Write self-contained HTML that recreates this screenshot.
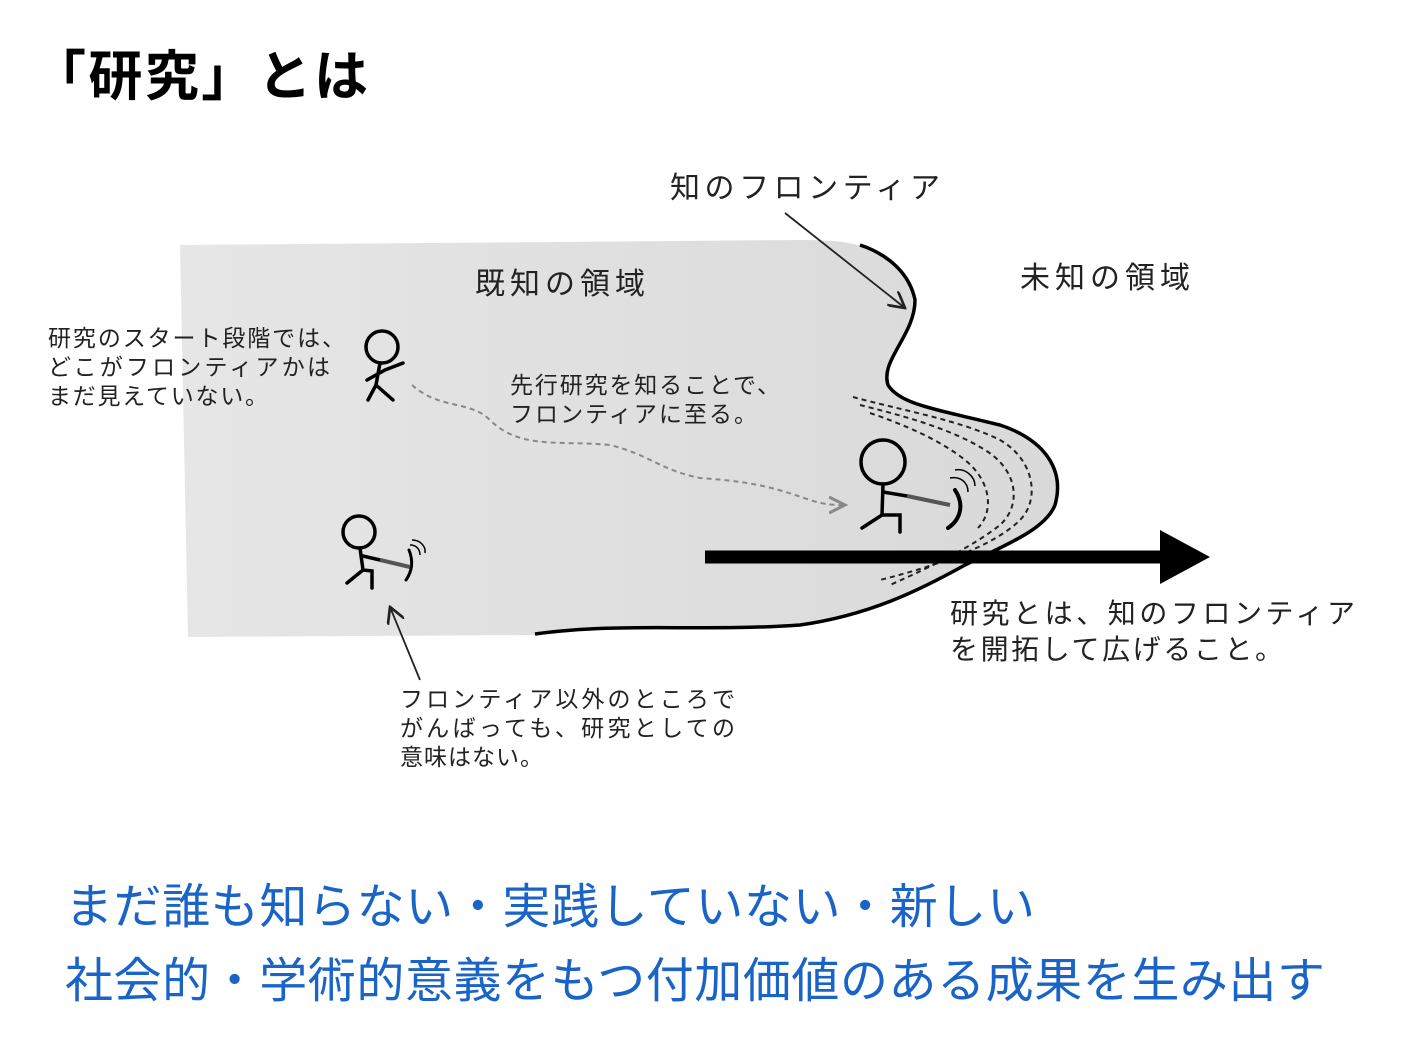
<!DOCTYPE html>
<html><head><meta charset="utf-8"><style>
body{margin:0;background:#fff;width:1411px;height:1057px;overflow:hidden;font-family:"Liberation Sans","Noto Sans CJK JP",sans-serif}
svg{position:absolute;left:0;top:0}
</style></head><body>
<svg width="1411" height="1057" viewBox="0 0 1411 1057" font-family="'Liberation Sans','Noto Sans CJK JP',sans-serif">
<defs>
<linearGradient id="g" x1="0" x2="1"><stop offset="0" stop-color="#e6e6e6"/><stop offset="1" stop-color="#d9d9d9"/></linearGradient>
<marker id="ah" markerWidth="10" markerHeight="10" refX="9" refY="5" orient="auto"><path d="M0,0 L9,5 L0,10" fill="none" stroke="#222" stroke-width="1.5"/></marker>
<marker id="ag" markerWidth="10" markerHeight="10" refX="8" refY="5" orient="auto"><path d="M0,1 L8,5 L0,9" fill="none" stroke="#888" stroke-width="1.5"/></marker>
</defs>
<text x="32" y="95" font-size="54" font-weight="bold" fill="#000" textLength="336" lengthAdjust="spacing">「研究」とは</text>
<path d="M180,245 L800,240 C835,240 855,242 870,250 C900,265 918,290 912,315 C905,340 880,360 888,385 C900,405 940,410 1000,425 C1045,440 1065,470 1055,505 C1045,530 1005,545 965,565 C920,590 870,615 800,625 C700,632 620,622 540,635 L188,637 Z" fill="url(#g)"/>
<path d="M860,245 C890,255 910,275 915,300 C915,335 880,360 888,385 C900,405 940,410 1000,425 C1045,440 1065,470 1055,505 C1045,530 1005,545 965,565 C920,590 870,615 800,625 C700,632 620,622 535,634" fill="none" stroke="#000" stroke-width="3.5"/>
<g fill="none" stroke="#222" stroke-width="2" stroke-dasharray="5,4">
<path d="M853,397 C900,410 960,420 1000,440 C1035,460 1040,500 1020,520 C995,545 940,565 880,580"/>
<path d="M860,405 C900,415 950,428 985,450 C1018,470 1022,505 1000,525 C975,545 935,565 890,585"/>
<path d="M870,413 C905,425 940,440 965,460 C990,480 995,510 978,528"/>
</g>
<line x1="705" y1="557" x2="1165" y2="557" stroke="#000" stroke-width="13"/>
<path d="M1160,530 L1210,557 L1160,584 Z" fill="#000"/>
<line x1="785" y1="213" x2="905" y2="308" stroke="#222" stroke-width="1.8" marker-end="url(#ah)"/>
<path d="M412,385 C440,410 470,400 490,420 C520,450 560,440 610,445 C650,455 660,470 700,478 C760,482 780,490 810,500 C825,505 835,505 845,505" fill="none" stroke="#888" stroke-width="2" stroke-dasharray="5,4" marker-end="url(#ag)"/>
<line x1="420" y1="680" x2="390" y2="607" stroke="#222" stroke-width="1.8" marker-end="url(#ah)"/>
<g fill="none" stroke="#000" stroke-width="3.5" stroke-linecap="round">
<circle cx="382" cy="347" r="16"/><path d="M380,363 L376,385 M367,380 L385,370 L403,363 M376,385 L368,400 M376,385 L393,400"/>
<circle cx="359" cy="532" r="16"/><path d="M360,548 L363,570 L347,583 M363,570 L372,571 L372,588 M363,556 L380,560"/>
<circle cx="883" cy="462" r="22"/><path d="M883,484 L882,515 L862,528 M882,515 L900,515 L900,532 M883,492 L907,496"/>
<path d="M955,490 C965,505 960,520 948,528" stroke-width="4"/>
<path d="M409,550 C413,560 413,570 406,580" stroke-width="3"/>
</g>
<g stroke="#555" stroke-width="4"><line x1="907" y1="496" x2="950" y2="505"/><line x1="380" y1="560" x2="410" y2="567"/></g>
<g fill="none" stroke="#000" stroke-width="1.5">
<path d="M955,470 C965,468 975,476 975,486 M950,478 C960,476 968,482 968,492"/>
<path d="M412,540 C420,540 426,546 425,553 M410,545 C416,545 420,549 420,555"/>
</g>
<g fill="#222" font-size="23">
<text x="670" y="198" font-size="30" textLength="270" lengthAdjust="spacing">知のフロンティア</text>
<text x="475" y="294" font-size="30" textLength="170" lengthAdjust="spacing">既知の領域</text>
<text x="1020" y="288" font-size="30" textLength="170" lengthAdjust="spacing">未知の領域</text>
<text x="48" y="346" textLength="297" lengthAdjust="spacing">研究のスタート段階では、</text>
<text x="48" y="375" textLength="282" lengthAdjust="spacing">どこがフロンティアかは</text>
<text x="48" y="404" textLength="220" lengthAdjust="spacing">まだ見えていない。</text>
<text x="510" y="393" textLength="270" lengthAdjust="spacing">先行研究を知ることで、</text>
<text x="510" y="422" textLength="247" lengthAdjust="spacing">フロンティアに至る。</text>
<text x="950" y="623" font-size="28" textLength="405" lengthAdjust="spacing">研究とは、知のフロンティア</text>
<text x="950" y="659" font-size="28" textLength="333" lengthAdjust="spacing">を開拓して広げること。</text>
<text x="400" y="707" textLength="335" lengthAdjust="spacing">フロンティア以外のところで</text>
<text x="400" y="736" textLength="335" lengthAdjust="spacing">がんばっても、研究としての</text>
<text x="400" y="765" textLength="143" lengthAdjust="spacing">意味はない。</text>
</g>
<g fill="#1a64c8" font-size="48">
<text x="65" y="923" textLength="970" lengthAdjust="spacing">まだ誰も知らない・実践していない・新しい</text>
<text x="65" y="997" textLength="1260" lengthAdjust="spacing">社会的・学術的意義をもつ付加価値のある成果を生み出す</text>
</g>
</svg>
</body></html>
